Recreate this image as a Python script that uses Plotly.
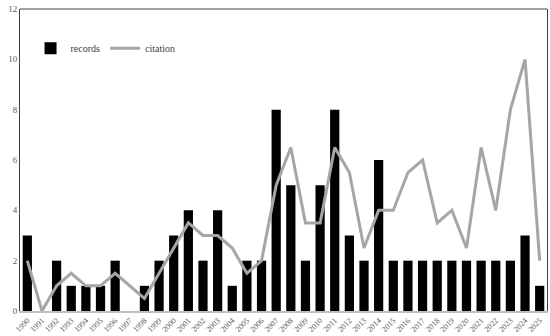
import plotly.graph_objects as go

years = [str(y) for y in range(1990, 2026)]
records = [3, 0, 2, 1, 1, 1, 2, 0, 1, 2, 3, 4, 2, 4, 1, 2, 2, 8, 5, 2, 5, 8, 3, 2, 6,
           2, 2, 2, 2, 2, 2, 2, 2, 2, 3, 1]
citation = [2, 0, 1, 1.5, 1, 1, 1.5, 1, 0.5, 1.5, 2.5, 3.5, 3, 3, 2.5, 1.5, 2, 5, 6.5, 3.5,
            3.5, 6.5, 5.5, 2.5, 4, 4, 5.5, 6, 3.5, 4, 2.5, 6.5, 4, 8, 10, 2]
y_ticks = [0, 2, 4, 6, 8, 10, 12]

font_family = "Liberation Serif, Times New Roman, serif"

fig = go.Figure()
fig.add_trace(go.Bar(x=years, y=records, name="records",
                     marker=dict(color="black", line=dict(width=0))))
fig.add_trace(go.Scatter(x=years, y=citation, name="citation", mode="lines",
                         line=dict(color="#a6a6a6", width=3)))

fig.update_layout(
    width=550, height=336,
    margin=dict(l=20, r=3, t=9, b=25),
    paper_bgcolor="white", plot_bgcolor="white",
    bargap=0.37,
    font=dict(family=font_family, color="#595959", size=9),
    showlegend=True,
    legend=dict(orientation="h", x=0.02, y=0.87, xanchor="left", yanchor="middle",
                font=dict(family=font_family, size=10, color="#404040"),
                bgcolor="rgba(0,0,0,0)", itemwidth=30, tracegroupgap=0),
    xaxis=dict(type="category", tickangle=-45, tickfont=dict(size=8),
               showline=True, linecolor="#bfbfbf", linewidth=1.5,
               ticks="", showgrid=False, range=[-0.5, 35.5], automargin=False),
    yaxis=dict(range=[0, 12], tickvals=y_ticks, showgrid=False, zeroline=False,
               showline=True, mirror=True, linecolor="#404040", linewidth=1,
               ticks="", tickfont=dict(size=9), automargin=False),
    shapes=[dict(type="line", xref="paper", yref="paper", x0=0, x1=1, y0=1, y1=1,
                 line=dict(color="#404040", width=1))],
)

fig.write_html("out.html", config={"displayModeBar": False},
               post_script="document.body.style.margin='0';document.body.style.overflow='hidden';")
